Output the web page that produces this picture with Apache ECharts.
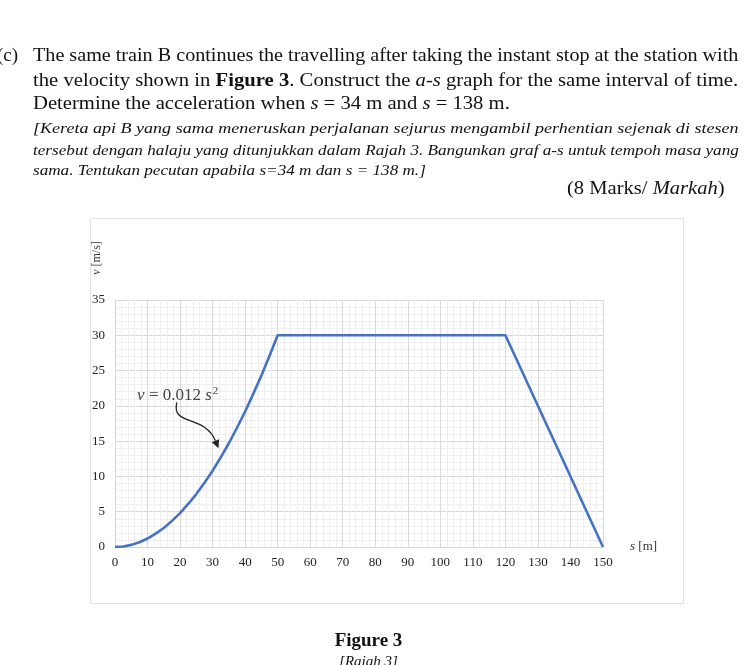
<!DOCTYPE html>
<html>
<head>
<meta charset="utf-8">
<script src="https://cdn.jsdelivr.net/npm/echarts@6/dist/echarts.min.js"></script>
<style>
  html, body { margin: 0; padding: 0; background: #fff; }
  #page { position: relative; width: 750px; height: 665px; overflow: hidden; }
  #chart { position: absolute; left: 0; top: 0; width: 750px; height: 665px; }
  .ln { position: absolute; white-space: nowrap; font-family: "Liberation Serif", "Times New Roman", serif; color: #111; transform-origin: 0 50%; }
  .main { font-size: 19px; line-height: 24px; }
  .my { font-size: 15px; line-height: 20px; font-style: italic; }
</style>
</head>
<body>
<div id="page">
  <div id="chart"></div>
  <div class="ln main" style="left:-3px;top:43px;">(c)</div>
  <div class="ln main fit" data-w="705" style="left:33px;top:43px;">The same train B continues the travelling after taking the instant stop at the station with</div>
  <div class="ln main fit" data-w="705" style="left:33px;top:68px;">the velocity shown in <b>Figure 3</b>. Construct the <i>a-s</i> graph for the same interval of time.</div>
  <div class="ln main fit" data-w="477" style="left:33px;top:91px;">Determine the acceleration when <i>s</i> = 34 m and <i>s</i> = 138 m.</div>
  <div class="ln my fit" data-w="706" style="left:33px;top:118px;">[Kereta api B yang sama meneruskan perjalanan sejurus mengambil perhentian sejenak di stesen</div>
  <div class="ln my fit" id="my2" data-w="706" style="left:33px;top:140px;">tersebut dengan halaju yang ditunjukkan dalam Rajah 3. Bangunkan graf a-s untuk tempoh masa yang</div>
  <div class="ln my" id="my3" style="left:33px;top:160px;">sama. Tentukan pecutan apabila s=34 m dan s = 138 m.]</div>
  <div class="ln main fit" data-w="158" style="left:567px;top:176px;">(8 Marks/ <i>Markah</i>)</div>
  <div class="ln main" style="left:0;width:737px;top:628px;text-align:center;font-weight:bold;">Figure 3</div>
  <div class="ln my" style="left:0;width:737px;top:651px;text-align:center;">[Rajah 3]</div>
</div>
<script>
// ---- data ----
const sValues = [0, 2.5, 5, 7.5, 10, 12.5, 15, 17.5, 20, 22.5, 25, 27.5, 30, 32.5, 35, 37.5, 40, 42.5, 45, 47.5, 50, 120, 150];
const vValues = [0, 0.08, 0.3, 0.68, 1.2, 1.9, 2.7, 3.7, 4.8, 6.1, 7.5, 9.1, 10.8, 12.7, 14.7, 16.9, 19.2, 21.7, 24.3, 27.1, 30, 30, 0];
const xTicks = [0, 10, 20, 30, 40, 50, 60, 70, 80, 90, 100, 110, 120, 130, 140, 150];
const yTicks = [0, 5, 10, 15, 20, 25, 30, 35];
const xAxisName = 's [m]';
const yAxisName = 'v [m/s]';
const annotationAt = [6.8, 21.4];          // label anchor (data units)
const arrowFrom = [19.0, 20.5];            // arrow start (data units)
const arrowTo = [31.8, 14.0];              // arrow tip (data units)

// fit text lines to measured widths
let lastScale = 1;
document.querySelectorAll('.fit').forEach(el => {
  const w = el.scrollWidth, t = +el.dataset.w;
  const k = t / w;
  el.style.transform = 'scaleX(' + k + ')';
  if (el.id === 'my2') lastScale = k;
});
document.getElementById('my3').style.transform = 'scaleX(' + lastScale + ')';

const serif = '"Liberation Serif", "Times New Roman", serif';
const chart = echarts.init(document.getElementById('chart'), null, { renderer: 'canvas' });
const pts = sValues.map((s, i) => [s, vValues[i]]);

chart.setOption({
  animation: false,
  backgroundColor: '#fff',
  grid: { left: 115, right: 147, top: 300, bottom: 118, containLabel: false },
  xAxis: {
    type: 'value', min: xTicks[0], max: xTicks[xTicks.length - 1], interval: 10,
    axisLine: { show: true, lineStyle: { color: '#d6d6d6', width: 1 } },
    axisTick: { show: false },
    axisLabel: { margin: 9, color: '#222', fontFamily: serif, fontSize: 13 },
    splitLine: { show: true, lineStyle: { color: '#d9d9d9', width: 1 } },
    minorTick: { show: false, splitNumber: 5 },
    minorSplitLine: { show: true, lineStyle: { color: '#efefef', width: 1 } }
  },
  yAxis: {
    type: 'value', min: yTicks[0], max: yTicks[yTicks.length - 1], interval: 5,
    axisLine: { show: true, lineStyle: { color: '#d6d6d6', width: 1 } },
    axisTick: { show: false },
    axisLabel: { margin: 10, color: '#222', fontFamily: serif, fontSize: 13 },
    splitLine: { show: true, lineStyle: { color: '#d9d9d9', width: 1 } },
    minorTick: { show: false, splitNumber: 5 },
    minorSplitLine: { show: true, lineStyle: { color: '#efefef', width: 1 } }
  },
  series: [{
    type: 'line', data: pts, showSymbol: false, smooth: false,
    lineStyle: { color: '#4472c4', width: 2.6 }, z: 5
  }]
});

function px(p) { return chart.convertToPixel({ gridIndex: 0 }, p); }
const a0 = px(annotationAt), f = px(arrowFrom), t = px(arrowTo);
const c1 = [f[0] - 6, f[1] + 24], c2 = [t[0] - 14, t[1] - 34];
const ang = Math.atan2(t[1] - c2[1], t[0] - c2[0]);
const L = 8, W = 4;
const base = [t[0] - L * Math.cos(ang), t[1] - L * Math.sin(ang)];
const head = [t, [base[0] + W * Math.sin(ang), base[1] - W * Math.cos(ang)], [base[0] - W * Math.sin(ang), base[1] + W * Math.cos(ang)]];

chart.setOption({
  graphic: [
    { type: 'rect', shape: { x: 90.5, y: 218.5, width: 593, height: 385 }, style: { fill: 'none', stroke: '#e2e2e2', lineWidth: 1 }, silent: true, z: -1 },
    { type: 'text', x: 97, y: 258, rotation: Math.PI / 2, style: { text: '{i|v} [m/s]', rich: { i: { fontStyle: 'italic', fontFamily: serif, fontSize: 12, fill: '#333' } }, font: '12px ' + serif, fill: '#333', align: 'center', verticalAlign: 'middle' } },
    { type: 'text', x: 630, y: 547, style: { text: '{i|s} [m]', rich: { i: { fontStyle: 'italic', fontFamily: serif, fontSize: 13, fill: '#333' } }, font: '13px ' + serif, fill: '#333', align: 'left', verticalAlign: 'middle' } },
    { type: 'text', x: a0[0], y: a0[1], z: 10, style: {
        text: '{i|v} = 0.012 {i|s}{sup|2}',
        rich: { i: { fontStyle: 'italic', fontFamily: serif, fontSize: 17, fill: '#444' }, sup: { fontFamily: serif, fontSize: 11, fill: '#444', verticalAlign: 'top', padding: [0, 0, 10, 1] } },
        font: '17px ' + serif, fill: '#444', align: 'left', verticalAlign: 'middle' } },
    { type: 'bezierCurve', z: 10, shape: { x1: f[0], y1: f[1], cpx1: c1[0], cpy1: c1[1], cpx2: c2[0], cpy2: c2[1], x2: base[0], y2: base[1] }, style: { stroke: '#222', lineWidth: 1.3, fill: 'none' } },
    { type: 'polygon', z: 10, shape: { points: head }, style: { fill: '#222' } }
  ]
});
</script>
</body>
</html>
